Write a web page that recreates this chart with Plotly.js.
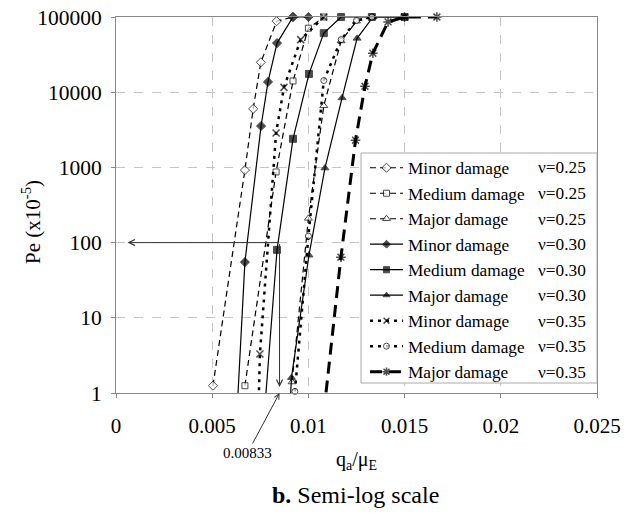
<!DOCTYPE html>
<html><head><meta charset="utf-8">
<script src="https://cdn.plot.ly/plotly-3.0.1.min.js"></script>
<style>html,body{margin:0;padding:0;background:#fff}#chart{width:635px;height:516px}</style>
</head><body><div id="chart"></div>
<script>
// ---- data ----
const damageLevels = ["Minor damage", "Medium damage", "Major damage"];
const nuValues = ["0.25", "0.30", "0.35"];

const minor025X  = [0.00504, 0.0067, 0.00713, 0.00753, 0.00835, 0.0092];
const minor025Y  = [1.25, 920, 6000, 25000, 88000, 100000];
const medium025X = [0.0067, 0.00832, 0.0092, 0.0100, 0.0108];
const medium025Y = [1.25, 870, 14100, 71000, 100000];
const major025X  = [0.00915, 0.0100, 0.0108, 0.0117, 0.0125, 0.0133];
const major025Y  = [1.4, 210, 6600, 48000, 88000, 100000];

const minor030X  = [0.00624, 0.0067, 0.00754, 0.0079, 0.00837, 0.0092, 0.0100];
const minor030Y  = [0.32, 55, 3550, 13700, 45000, 100000, 100000];
const medium030X = [0.00769, 0.00837, 0.0092, 0.01003, 0.0108, 0.0117, 0.0133, 0.0150];
const medium030Y = [0.45, 80, 2400, 17500, 61000, 100000, 100000, 100000];
const major030X  = [0.00905, 0.00912, 0.01003, 0.01086, 0.01175, 0.01253, 0.01336, 0.0150];
const major030Y  = [0.7, 1.6, 68, 980, 8400, 52000, 100000, 100000];

const minor035X  = [0.00742, 0.00748, 0.00832, 0.00873, 0.0096, 0.0108];
const minor035Y  = [0.85, 3.3, 2870, 11600, 50000, 100000];
const medium035X = [0.0093, 0.0100, 0.0108, 0.0117, 0.0125, 0.0133];
const medium035Y = [1.05, 122, 14300, 50000, 90000, 100000];
const major035X  = [0.0107, 0.01169, 0.01245, 0.01294, 0.01335, 0.01414, 0.0150, 0.01668];
const major035Y  = [0.32, 64, 2300, 12000, 33000, 86000, 100000, 100000];

const yTickVals = [1, 10, 100, 1000, 10000, 100000];
const yTickText = ["1", "10", "100", "1000", "10000", "100000"];
const xTickVals = [0, 0.005, 0.01, 0.015, 0.02, 0.025];
const xTickText = ["0", "0.005", "0.01", "0.015", "0.02", "0.025"];

const qMarked = 0.0085;      // where the reading arrows sit
const qMarkedLabel = "0.00833";
const peMarked = 100;

// ---- styling ----
const FONT = "'Liberation Serif', 'Times New Roman', serif";
const series = [
  {x: minor025X,  y: minor025Y,  d: 0, n: 0, sym: "diamond",     fill: "white", dash: "6px,4px", w: 1.2, ms: 7},
  {x: medium025X, y: medium025Y, d: 1, n: 0, sym: "square",      fill: "white", dash: "6px,4px", w: 1.2, ms: 6},
  {x: major025X,  y: major025Y,  d: 2, n: 0, sym: "triangle-up", fill: "white", dash: "6px,4px", w: 1.2, ms: 7},
  {x: minor030X,  y: minor030Y,  d: 0, n: 1, sym: "diamond",     fill: "black", dash: "solid",   w: 1.2, ms: 7},
  {x: medium030X, y: medium030Y, d: 1, n: 1, sym: "square",      fill: "black", dash: "solid",   w: 1.2, ms: 7},
  {x: major030X,  y: major030Y,  d: 2, n: 1, sym: "triangle-up", fill: "black", dash: "solid",   w: 1.2, ms: 7},
  {x: minor035X,  y: minor035Y,  d: 0, n: 2, sym: "x-thin-open", fill: "black", dash: "3px,5px", w: 2.5, ms: 7},
  {x: medium035X, y: medium035Y, d: 1, n: 2, sym: "circle",      fill: "white", dash: "3px,5px", w: 2.5, ms: 6},
  {x: major035X,  y: major035Y,  d: 2, n: 2, sym: "asterisk-open", fill: "black", dash: "12px,7px", w: 3, ms: 8}
];

const traces = series.map(s => ({
  type: "scatter", mode: "lines+markers",
  x: s.x, y: s.y,
  name: damageLevels[s.d],
  cliponaxis: false,
  line: {color: "black", width: s.w, dash: s.dash},
  marker: {
    symbol: s.sym,
    size: s.y.map(v => v < 1 ? 0 : s.ms),
    color: s.fill,
    line: {color: "black", width: s.sym.endsWith("-open") ? 1.5 : 1}
  }
}));

// plot area in pixels (for paper-coordinate helpers)
const W = 635, H = 516, ML = 116, MR = 38, MT = 17, MB = 123;
const PW = W - ML - MR, PH = H - MT - MB;
const px2paperX = p => (p - ML) / PW;
const px2paperY = p => (H - MB - p) / PH;

const rowTop = 168, rowStep = 25.5;
const nuAnnotations = series.map((s, i) => ({
  xref: "paper", yref: "paper",
  x: px2paperX(588), y: px2paperY(rowTop + i * rowStep),
  xanchor: "right", yanchor: "middle",
  text: "\u03bd=" + nuValues[s.n],
  showarrow: false,
  font: {family: FONT, size: 17.3, color: "black"}
}));

const layout = {
  width: W, height: H,
  margin: {l: ML, r: MR, t: MT, b: MB, pad: 0},
  paper_bgcolor: "white", plot_bgcolor: "white",
  font: {family: FONT, color: "black"},
  showlegend: true,
  legend: {
    x: px2paperX(365), y: px2paperY(150), xanchor: "left", yanchor: "top",
    bgcolor: "rgba(0,0,0,0)", borderwidth: 0,
    font: {family: FONT, size: 17.3, color: "black"},
    itemwidth: 33, traceorder: "normal"
  },
  xaxis: {
    range: [0, 0.025], tickmode: "array", tickvals: xTickVals, ticktext: xTickText,
    showline: true, mirror: true, linecolor: "#888", linewidth: 1,
    ticks: "outside", ticklen: 4, tickcolor: "#888",
    showgrid: true, gridcolor: "#c4c4c4", griddash: "dash", zeroline: false,
    tickfont: {family: FONT, size: 21, color: "black"},
    ticklabelstandoff: 10,
    title: {text: "q<sub>a</sub>/\u03bc<sub>E</sub>", font: {family: FONT, size: 20, color: "black"}, standoff: 14}
  },
  yaxis: {
    type: "log", range: [0, 5], tickmode: "array", tickvals: yTickVals, ticktext: yTickText,
    showline: true, mirror: true, linecolor: "#888", linewidth: 1,
    ticks: "outside", ticklen: 4, tickcolor: "#888",
    showgrid: true, gridcolor: "#c4c4c4", griddash: "dash", zeroline: false,
    tickfont: {family: FONT, size: 21.5, color: "black"},
    ticklabelstandoff: 5
  },
  shapes: [{
    type: "rect", xref: "paper", yref: "paper", layer: "above",
    x0: px2paperX(361), x1: 1, y0: px2paperY(383), y1: px2paperY(153),
    line: {color: "#aaa", width: 1}, fillcolor: "white"
  }],
  annotations: [
    {xref: "paper", yref: "paper", x: px2paperX(31), y: px2paperY(222), xanchor: "center", yanchor: "middle",
     textangle: -90, text: "Pe (x10<sup>-5</sup>)", showarrow: false, font: {family: FONT, size: 21, color: "black"}},
    {x: 0.0006, y: Math.log10(peMarked), ax: qMarked, ay: Math.log10(peMarked), xref: "x", yref: "y", axref: "x", ayref: "y",
     text: "", showarrow: true, arrowhead: 5, arrowsize: 1.2, arrowwidth: 1, arrowcolor: "#333"},
    {x: qMarked, y: 0.08, ax: qMarked, ay: Math.log10(peMarked), xref: "x", yref: "y", axref: "x", ayref: "y",
     text: "", showarrow: true, arrowhead: 5, arrowsize: 1.2, arrowwidth: 1, arrowcolor: "#333"},
    {x: qMarked, y: 0, xref: "x", yref: "y", ax: -32, ay: 60,
     text: qMarkedLabel, showarrow: true, arrowhead: 5, arrowsize: 1, arrowwidth: 1, arrowcolor: "#333",
     font: {family: FONT, size: 15, color: "black"}},
    {xref: "paper", yref: "paper", x: px2paperX(355), y: px2paperY(495), xanchor: "center", yanchor: "middle",
     text: "<b>b.</b> Semi-log scale", showarrow: false, font: {family: FONT, size: 24, color: "black"}}
  ].concat(nuAnnotations)
};

Plotly.newPlot("chart", traces, layout, {displayModeBar: false, staticPlot: true});
</script>
</body></html>
